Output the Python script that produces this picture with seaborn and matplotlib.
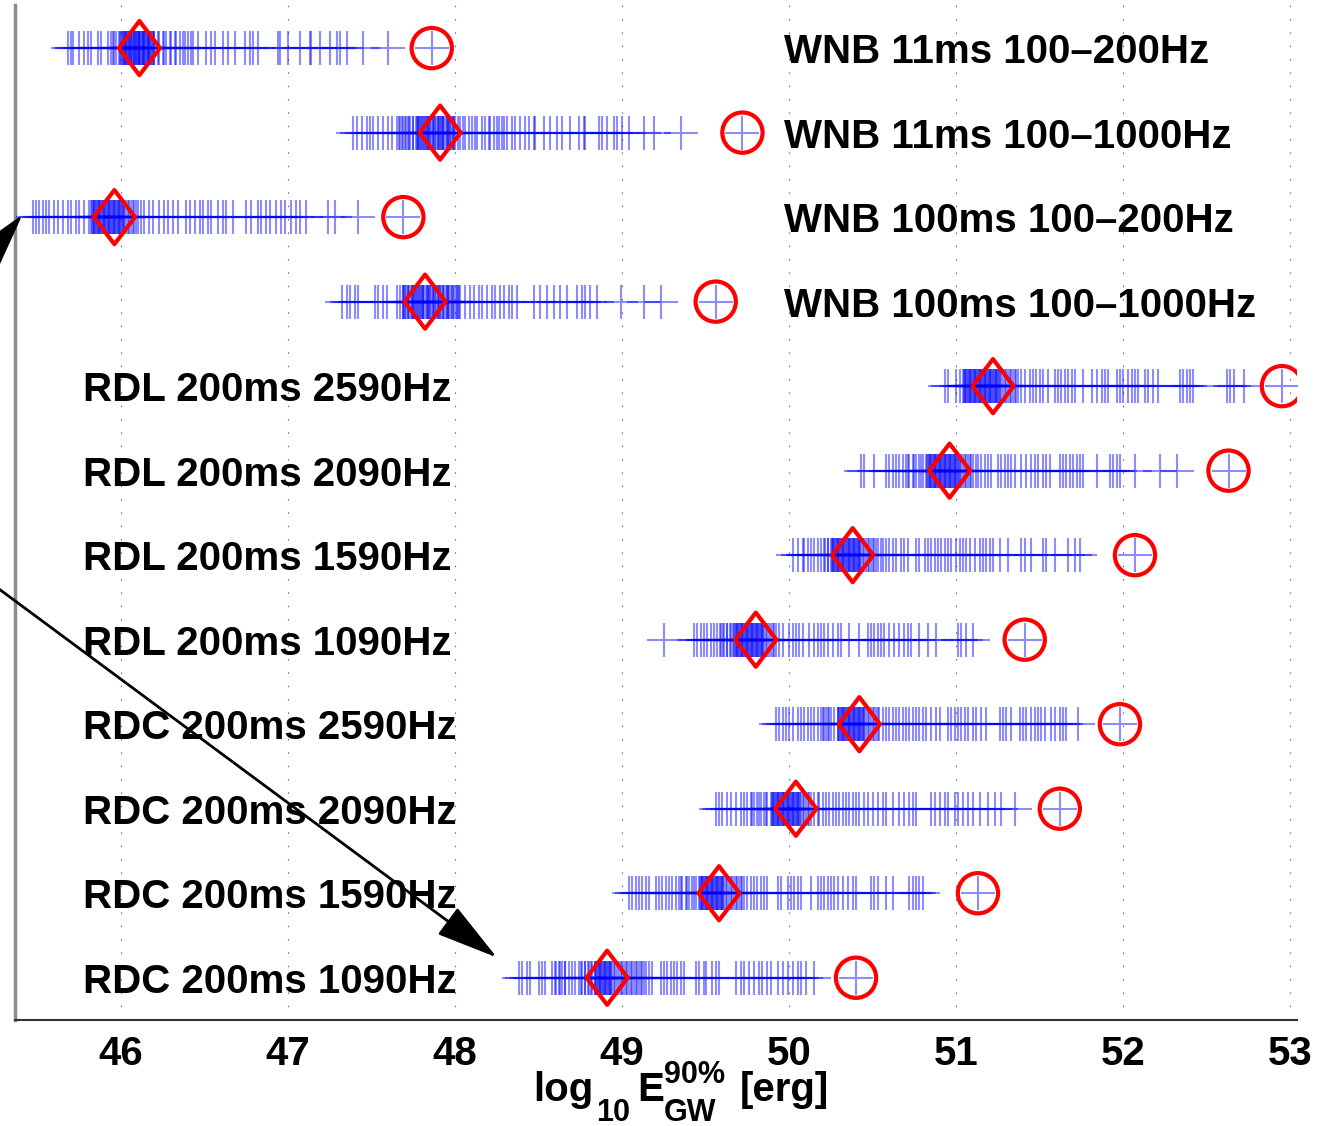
import numpy as np
import pandas as pd
import matplotlib
matplotlib.use("Agg")
import matplotlib.pyplot as plt
import seaborn as sns
from matplotlib.path import Path

# ---------------- data (top row first) ----------------
labels = [
    "WNB 11ms 100\u2013200Hz",
    "WNB 11ms 100\u20131000Hz",
    "WNB 100ms 100\u2013200Hz",
    "WNB 100ms 100\u20131000Hz",
    "RDL 200ms 2590Hz",
    "RDL 200ms 2090Hz",
    "RDL 200ms 1590Hz",
    "RDL 200ms 1090Hz",
    "RDC 200ms 2590Hz",
    "RDC 200ms 2090Hz",
    "RDC 200ms 1590Hz",
    "RDC 200ms 1090Hz",
]

wnb11_200 = [45.68, 45.70, 45.71, 45.75, 45.78, 45.80, 45.82, 45.86, 45.88, 45.92, 45.94, 45.95, 45.96,
             45.97, 45.99, 46.00, 46.01, 46.02, 46.03, 46.03, 46.04, 46.05, 46.06, 46.06, 46.07, 46.08,
             46.09, 46.09, 46.10, 46.11, 46.11, 46.12, 46.13, 46.13, 46.14, 46.15, 46.16, 46.16, 46.17,
             46.18, 46.19, 46.20, 46.22, 46.23, 46.25, 46.27, 46.30, 46.32, 46.35, 46.38, 46.40, 46.42,
             46.43, 46.46, 46.51, 46.54, 46.56, 46.61, 46.64, 46.68, 46.74, 46.77, 46.79, 46.82, 46.94,
             46.95, 47.00, 47.07, 47.13, 47.14, 47.19, 47.25, 47.29, 47.31, 47.35, 47.45, 47.60,
             45.995, 46.005, 46.015, 46.025, 46.035, 46.045, 46.055, 46.065, 46.075, 46.085, 46.095,
             46.105, 46.115, 46.125, 46.135, 46.145, 46.155, 46.165, 46.175, 46.185, 46.195,
             46.26, 46.29, 46.33, 46.37]
wnb11_1000 = [47.39, 47.41, 47.44, 47.47, 47.49, 47.51, 47.54, 47.57, 47.60, 47.62, 47.65, 47.67, 47.68,
              47.70, 47.72, 47.73, 47.75, 47.77, 47.78, 47.79, 47.80, 47.82, 47.83, 47.84, 47.85, 47.87,
              47.88, 47.90, 47.91, 47.92, 47.93, 47.95, 47.96, 47.97, 47.99, 48.00, 48.03, 48.05, 48.08,
              48.10, 48.13, 48.16, 48.18, 48.21, 48.23, 48.25, 48.26, 48.28, 48.29, 48.31, 48.34, 48.36,
              48.39, 48.42, 48.44, 48.47, 48.48, 48.53, 48.57, 48.61, 48.64, 48.69, 48.74, 48.77, 48.78,
              48.86, 48.88, 48.91, 48.95, 48.97, 49.00, 49.04, 49.13, 49.19, 49.35,
              47.665, 47.685, 47.705, 47.725, 47.745, 47.765, 47.775, 47.785, 47.795, 47.805, 47.815,
              47.825, 47.835, 47.845, 47.855, 47.865, 47.875, 47.885, 47.895, 47.905, 47.915, 47.925,
              47.935, 47.945, 47.955, 47.965, 47.975, 47.985, 47.995, 48.02, 48.06, 48.12, 48.20]
wnb100_200 = [45.47, 45.49, 45.51, 45.53, 45.55, 45.57, 45.60, 45.62, 45.65, 45.68, 45.70, 45.73, 45.75,
              45.78, 45.81, 45.82, 45.83, 45.84, 45.85, 45.86, 45.87, 45.88, 45.89, 45.90, 45.91, 45.92,
              45.93, 45.94, 45.95, 45.96, 45.97, 45.98, 45.99, 46.00, 46.01, 46.02, 46.04, 46.06, 46.08,
              46.10, 46.12, 46.14, 46.17, 46.19, 46.23, 46.26, 46.28, 46.31, 46.34, 46.39, 46.41, 46.44,
              46.47, 46.49, 46.52, 46.54, 46.58, 46.61, 46.63, 46.67, 46.75, 46.78, 46.82, 46.84, 46.87,
              46.89, 46.93, 46.96, 46.98, 47.02, 47.05, 47.07, 47.11, 47.24, 47.28, 47.42,
              45.825, 45.835, 45.845, 45.855, 45.865, 45.875, 45.885, 45.895, 45.905, 45.915, 45.925,
              45.935, 45.945, 45.955, 45.965, 45.975, 45.985, 45.995, 46.005, 46.015, 46.03, 46.05,
              46.07, 46.09]
wnb100_1000 = [47.32, 47.35, 47.37, 47.40, 47.42, 47.52, 47.54, 47.57, 47.59, 47.65, 47.67, 47.69, 47.70,
               47.72, 47.74, 47.75, 47.76, 47.77, 47.79, 47.80, 47.81, 47.83, 47.84, 47.85, 47.87, 47.88,
               47.90, 47.91, 47.93, 47.95, 47.96, 47.98, 48.01, 48.03, 48.06, 48.09, 48.11, 48.14, 48.16,
               48.19, 48.22, 48.24, 48.27, 48.29, 48.32, 48.34, 48.37, 48.47, 48.51, 48.55, 48.59, 48.63,
               48.67, 48.73, 48.76, 48.78, 48.81, 48.85, 48.99, 49.13, 49.23,
               47.685, 47.695, 47.705, 47.715, 47.725, 47.735, 47.745, 47.755, 47.765, 47.775, 47.785,
               47.795, 47.805, 47.815, 47.825, 47.835, 47.845, 47.855, 47.865, 47.875, 47.885, 47.895,
               47.905, 47.915, 47.925, 47.935, 47.945, 47.955, 47.965, 47.975, 47.985, 47.995, 48.005,
               48.015, 48.025]
rdl_2590 = [50.93, 50.95, 51.00, 51.02, 51.04, 51.05, 51.06, 51.07, 51.08, 51.09, 51.10, 51.11, 51.12,
            51.13, 51.14, 51.15, 51.16, 51.17, 51.18, 51.19, 51.20, 51.21, 51.22, 51.23, 51.24, 51.25,
            51.26, 51.28, 51.30, 51.32, 51.34, 51.36, 51.37, 51.39, 51.41, 51.44, 51.46, 51.48, 51.50,
            51.52, 51.55, 51.59, 51.61, 51.63, 51.65, 51.67, 51.69, 51.71, 51.76, 51.81, 51.84, 51.87,
            51.89, 51.91, 51.96, 51.98, 52.00, 52.03, 52.05, 52.07, 52.09, 52.13, 52.15, 52.18, 52.21,
            52.34, 52.36, 52.38, 52.40, 52.42, 52.62, 52.64, 52.66, 52.72,
            51.045, 51.055, 51.065, 51.075, 51.085, 51.095, 51.105, 51.115, 51.125, 51.135, 51.145,
            51.155, 51.165, 51.175, 51.185, 51.195, 51.205, 51.215, 51.225, 51.235, 51.245, 51.255,
            51.27, 51.29, 51.31, 51.33, 51.35]
rdl_2090 = [50.43, 50.45, 50.51, 50.58, 50.60, 50.62, 50.64, 50.66, 50.68, 50.70, 50.72, 50.74, 50.76,
            50.78, 50.80, 50.82, 50.83, 50.84, 50.85, 50.86, 50.87, 50.88, 50.89, 50.90, 50.91, 50.92,
            50.93, 50.94, 50.95, 50.96, 50.97, 50.98, 50.99, 51.00, 51.01, 51.02, 51.04, 51.06, 51.08,
            51.10, 51.12, 51.13, 51.15, 51.17, 51.19, 51.21, 51.25, 51.27, 51.29, 51.31, 51.33, 51.35,
            51.39, 51.42, 51.45, 51.47, 51.49, 51.52, 51.54, 51.56, 51.62, 51.64, 51.66, 51.68, 51.70,
            51.72, 51.74, 51.76, 51.84, 51.92, 51.94, 51.96, 51.98, 52.07, 52.22, 52.32,
            50.825, 50.835, 50.845, 50.855, 50.865, 50.875, 50.885, 50.895, 50.905, 50.915, 50.925,
            50.935, 50.945, 50.955, 50.965, 50.975, 50.985, 50.995, 51.005, 51.015, 51.03, 51.05,
            51.07, 51.09, 50.71, 50.75, 50.79]
rdl_1590 = [50.02, 50.05, 50.08, 50.09, 50.11, 50.13, 50.15, 50.17, 50.19, 50.21, 50.23, 50.25, 50.26,
            50.27, 50.28, 50.29, 50.30, 50.31, 50.32, 50.33, 50.34, 50.35, 50.36, 50.37, 50.38, 50.39,
            50.40, 50.41, 50.42, 50.43, 50.45, 50.47, 50.49, 50.51, 50.53, 50.55, 50.56, 50.58, 50.60,
            50.62, 50.64, 50.67, 50.69, 50.71, 50.76, 50.78, 50.81, 50.83, 50.85, 50.87, 50.89, 50.91,
            50.93, 50.95, 50.97, 51.00, 51.02, 51.04, 51.06, 51.08, 51.11, 51.14, 51.16, 51.18, 51.20,
            51.22, 51.26, 51.31, 51.39, 51.41, 51.45, 51.52, 51.54, 51.59, 51.67, 51.71, 51.74,
            50.215, 50.235, 50.255, 50.265, 50.275, 50.285, 50.295, 50.305, 50.315, 50.325, 50.335,
            50.345, 50.355, 50.365, 50.375, 50.385, 50.395, 50.405, 50.415, 50.425, 50.44, 50.46,
            50.48, 50.50, 50.52]
rdl_1090 = [49.25, 49.43, 49.45, 49.47, 49.49, 49.51, 49.53, 49.55, 49.57, 49.59, 49.61, 49.63, 49.65,
            49.67, 49.68, 49.69, 49.70, 49.71, 49.72, 49.73, 49.74, 49.75, 49.76, 49.77, 49.78, 49.79,
            49.80, 49.81, 49.82, 49.83, 49.84, 49.85, 49.87, 49.89, 49.91, 49.92, 49.94, 49.96, 50.00,
            50.02, 50.04, 50.06, 50.08, 50.12, 50.15, 50.17, 50.19, 50.21, 50.23, 50.26, 50.29, 50.31,
            50.36, 50.42, 50.47, 50.49, 50.51, 50.53, 50.55, 50.57, 50.60, 50.63, 50.66, 50.69, 50.71,
            50.73, 50.78, 50.83, 50.88, 51.01, 51.03, 51.06, 51.10,
            49.585, 49.605, 49.625, 49.645, 49.665, 49.675, 49.685, 49.695, 49.705, 49.715, 49.725,
            49.735, 49.745, 49.755, 49.765, 49.775, 49.785, 49.795, 49.805, 49.815, 49.825, 49.835,
            49.845, 49.86, 49.88, 49.90]
rdc_2590 = [49.92, 49.94, 49.96, 49.98, 50.00, 50.02, 50.05, 50.07, 50.09, 50.11, 50.13, 50.15, 50.17,
            50.19, 50.21, 50.23, 50.25, 50.27, 50.29, 50.30, 50.31, 50.32, 50.33, 50.34, 50.35, 50.36,
            50.37, 50.38, 50.39, 50.40, 50.41, 50.42, 50.43, 50.44, 50.45, 50.47, 50.49, 50.51, 50.53,
            50.54, 50.56, 50.58, 50.60, 50.62, 50.64, 50.66, 50.68, 50.70, 50.72, 50.74, 50.76, 50.78,
            50.80, 50.82, 50.85, 50.88, 50.90, 50.95, 50.97, 50.99, 51.01, 51.03, 51.05, 51.07, 51.10,
            51.12, 51.15, 51.18, 51.26, 51.28, 51.30, 51.33, 51.38, 51.40, 51.42, 51.45, 51.47, 51.49,
            51.51, 51.53, 51.57, 51.59, 51.62, 51.64, 51.66, 51.73,
            50.295, 50.305, 50.315, 50.325, 50.335, 50.345, 50.355, 50.365, 50.375, 50.385, 50.395,
            50.405, 50.415, 50.425, 50.435, 50.445, 50.46, 50.48, 50.50, 50.52, 50.20, 50.22, 50.24]
rdc_2090 = [49.56, 49.58, 49.60, 49.63, 49.65, 49.68, 49.71, 49.73, 49.75, 49.77, 49.79, 49.81, 49.83,
            49.85, 49.87, 49.89, 49.90, 49.91, 49.92, 49.93, 49.94, 49.95, 49.96, 49.97, 49.98, 49.99,
            50.00, 50.01, 50.02, 50.03, 50.04, 50.05, 50.06, 50.07, 50.09, 50.11, 50.13, 50.15, 50.17,
            50.18, 50.20, 50.22, 50.24, 50.26, 50.28, 50.30, 50.32, 50.34, 50.36, 50.38, 50.40, 50.42,
            50.45, 50.47, 50.50, 50.53, 50.56, 50.58, 50.62, 50.66, 50.69, 50.72, 50.74, 50.76, 50.85,
            50.87, 50.90, 50.93, 50.95, 50.99, 51.01, 51.04, 51.07, 51.10, 51.14, 51.19, 51.23, 51.27,
            51.35,
            49.895, 49.905, 49.915, 49.925, 49.935, 49.945, 49.955, 49.965, 49.975, 49.985, 49.995,
            50.005, 50.015, 50.025, 50.035, 50.045, 50.055, 50.065, 50.08, 50.10, 50.12, 49.78,
            49.82, 49.86]
rdc_1590 = [49.04, 49.06, 49.08, 49.10, 49.12, 49.14, 49.16, 49.20, 49.22, 49.24, 49.26, 49.28, 49.30,
            49.32, 49.34, 49.36, 49.38, 49.40, 49.42, 49.44, 49.46, 49.47, 49.48, 49.49, 49.50, 49.51,
            49.52, 49.53, 49.54, 49.55, 49.56, 49.57, 49.58, 49.59, 49.60, 49.61, 49.63, 49.65, 49.67,
            49.69, 49.71, 49.73, 49.75, 49.77, 49.79, 49.81, 49.83, 49.85, 49.87, 49.93, 49.95, 49.99,
            50.01, 50.03, 50.05, 50.07, 50.13, 50.17, 50.19, 50.21, 50.23, 50.25, 50.27, 50.29, 50.32,
            50.35, 50.38, 50.40, 50.49, 50.51, 50.53, 50.58, 50.62, 50.72, 50.74, 50.76, 50.78, 50.80,
            49.465, 49.475, 49.485, 49.495, 49.505, 49.515, 49.525, 49.535, 49.545, 49.555, 49.565,
            49.575, 49.585, 49.595, 49.605, 49.62, 49.64, 49.66, 49.68, 49.70, 49.72, 49.35, 49.39,
            49.43]
rdc_1090 = [48.38, 48.40, 48.43, 48.45, 48.50, 48.52, 48.54, 48.58, 48.60, 48.62, 48.64, 48.66, 48.68,
            48.70, 48.72, 48.74, 48.76, 48.78, 48.80, 48.82, 48.84, 48.85, 48.86, 48.87, 48.88, 48.89,
            48.90, 48.91, 48.92, 48.93, 48.94, 48.96, 48.98, 49.00, 49.02, 49.04, 49.06, 49.08, 49.10,
            49.12, 49.14, 49.16, 49.18, 49.23, 49.25, 49.27, 49.29, 49.31, 49.33, 49.35, 49.37, 49.44,
            49.46, 49.49, 49.50, 49.54, 49.56, 49.58, 49.68, 49.71, 49.73, 49.76, 49.79, 49.82, 49.84,
            49.87, 49.89, 49.93, 49.96, 49.99, 50.02, 50.05, 50.07, 50.10, 50.15,
            48.605, 48.625, 48.655, 48.755, 48.775, 48.795, 48.815, 48.835, 48.845, 48.855, 48.865,
            48.875, 48.885, 48.895, 48.905, 48.915, 48.925, 48.935, 48.95, 48.97, 48.99, 49.01, 49.03,
            49.05, 49.07, 49.09, 49.11, 49.13]

samples = [wnb11_200, wnb11_1000, wnb100_200, wnb100_1000,
           rdl_2590, rdl_2090, rdl_1590, rdl_1090,
           rdc_2590, rdc_2090, rdc_1590, rdc_1090]

medians = [46.11, 47.91, 45.96, 47.82, 51.22, 50.96, 50.38, 49.80, 50.42, 50.04, 49.58, 48.91]
upper90 = [47.86, 49.72, 47.69, 49.56, 52.95, 52.63, 52.07, 51.41, 51.98, 51.62, 51.13, 50.40]

xticks = [46, 47, 48, 49, 50, 51, 52, 53]

# ---------------- style ----------------
sns.set_style("white")
plt.rcParams["font.family"] = ["Liberation Sans", "DejaVu Sans"]
plt.rcParams["font.weight"] = "bold"
plt.rcParams["text.color"] = "black"
plt.rcParams["axes.labelcolor"] = "black"
plt.rcParams["xtick.color"] = "black"

W, H = 1323, 1126
fig = plt.figure(figsize=(W / 100, H / 100), dpi=100)
ax = fig.add_axes([15 / W, 1 - 1020 / H, (1297 - 15) / W, (1020 - 5) / H])

n = len(labels)
ypos = [n - i for i in range(n)]

rows, vals = [], []
for i, s in enumerate(samples):
    for v in list(s) + [upper90[i]]:
        vals.append(v)
        rows.append(ypos[i])
df = pd.DataFrame({"E": vals, "row": rows})

sns.scatterplot(data=df, x="E", y="row", marker="+", s=25 ** 2, color=(0, 0, 1),
                alpha=0.45, linewidth=1.5, ax=ax, legend=False, zorder=3)

diamond = Path([(0, 1), (0.76, 0), (0, -1), (-0.76, 0), (0, 1)],
               [Path.MOVETO, Path.LINETO, Path.LINETO, Path.LINETO, Path.CLOSEPOLY])
ax.scatter(medians, ypos, marker=diamond, s=39 ** 2, facecolors="none",
           edgecolors="red", linewidths=3, zorder=5)
ax.scatter(upper90, ypos, marker="o", s=29 ** 2, facecolors="none",
           edgecolors="red", linewidths=3, zorder=5)

for i, lab in enumerate(labels):
    x = 49.97 if lab.startswith("WNB") else 45.77
    ax.text(x, ypos[i], lab, fontsize=29, fontweight="bold", ha="left",
            va="center_baseline", color="black", zorder=6)

ax.set_xlim(45.365, 53.04)
ax.set_ylim(0.5, 12.51)
ax.set_xticks(xticks)
ax.set_xticklabels([str(t) for t in xticks])
ax.set_yticks([])
ax.set_ylabel("")
ax.set_xlabel("")

ax.grid(axis="x", color="0.4", linestyle=(0, (1.3, 10.7)), linewidth=0.8, zorder=0)
ax.set_axisbelow(True)
ax.tick_params(axis="x", direction="in", length=9, width=1, color="0.15", pad=11,
               labelsize=29, labelcolor="black")
for side in ["top", "right"]:
    ax.spines[side].set_visible(False)
ax.spines["left"].set_color("0.55")
ax.spines["left"].set_linewidth(2.5)
ax.spines["bottom"].set_color("0.2")
ax.spines["bottom"].set_linewidth(1.5)

# x-axis label: log10 E_GW^90% [erg], laid out piece by piece
def ftext(px, py, s, size):
    fig.text(px / W, 1 - py / H, s, fontsize=size, fontweight="bold",
             ha="left", va="baseline", color="black")

ftext(533, 1101, "log", 29)
ftext(596, 1121, "10", 22)
ftext(637, 1101, "E", 29)
ftext(664, 1083, "90%", 22)
ftext(664, 1121, "GW", 22)
ftext(740, 1101, "[erg]", 29)

arrow = dict(arrowstyle="-|>,head_length=2.8,head_width=0.75", mutation_scale=14,
             color="black", lw=2, shrinkA=0, shrinkB=0)
ax.annotate("", xy=(48.25, 1.24), xycoords="data", xytext=(-178, H - 458),
            textcoords="figure pixels", arrowprops=arrow, annotation_clip=False)
ax.annotate("", xy=(45.41, 10.03), xycoords="data", xytext=(-178, H - 458),
            textcoords="figure pixels", arrowprops=arrow, annotation_clip=False)

fig.savefig("out.png", dpi=100)
